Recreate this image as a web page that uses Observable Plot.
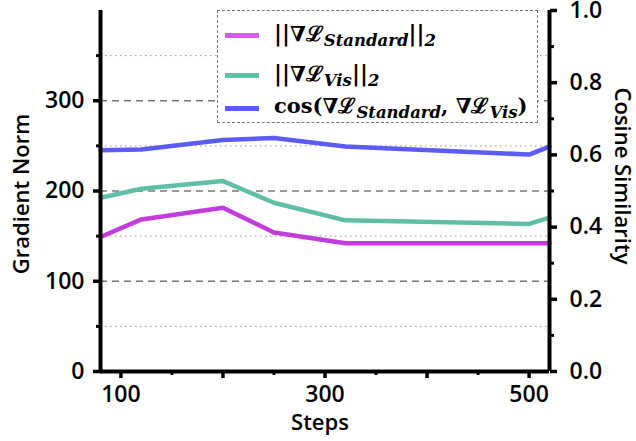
<!DOCTYPE html>
<html><head><meta charset="utf-8">
<script src="https://cdn.jsdelivr.net/npm/d3@7"></script>
<script src="https://cdn.jsdelivr.net/npm/@observablehq/plot@0.6"></script>
<style>
body{margin:0;background:#fff;}
#wrap{position:relative;width:636px;height:441px;overflow:hidden;}
#legend{position:absolute;left:217px;top:10px;width:321px;height:113px;box-sizing:border-box;border:1.3px dashed #777;background:#fff;font-family:"DejaVu Serif",serif;font-weight:bold;color:#000;}
.sw{position:absolute;left:7px;width:34px;height:5px;}
.lab{position:absolute;left:56px;white-space:nowrap;font-size:21px;line-height:26px;}
.lab sub{font-style:italic;font-size:16.5px;vertical-align:-5px;line-height:0;}
.lab .n{font-size:22px;}
svg text{font-weight:600;}
</style></head>
<body>
<div id="wrap">
<div id="chart"></div>
<div id="legend"></div>
</div>
<script>
const steps = [80, 120, 200, 250, 320, 500, 520];
const normStandard = [149, 168.5, 181.5, 154, 142, 142, 142];
const normVis = [192.5, 202.5, 211, 187, 167.5, 163.5, 170.5];
const cosSim = [0.613, 0.615, 0.641, 0.647, 0.623, 0.601, 0.623];
const leftTicks = [0, 100, 200, 300];
const leftMinor = [50, 150, 250, 350];
const rightTicks = [0, 0.2, 0.4, 0.6, 0.8, 1.0];
const rightMinor = [0.1, 0.3, 0.5, 0.7, 0.9];
const xTicks = [100, 200, 300, 400, 500];
const xLabeled = [100, 300, 500];
const xMinor = [150, 250, 350, 450];
const colors = {std: "#c23bdb", vis: "#5fbfa6", cos: "#5b5cf6"};
const legendColors = ["#d25fe8", "#5fc2a8", "#5b5cf6"];

const SCALE = 400; // right axis (0..1) mapped onto left axis (0..400)
const table = steps.map((s, i) => ({step: s, std: normStandard[i], vis: normVis[i], cos: cosSim[i] * SCALE}));

const plot = Plot.plot({
  width: 636, height: 441,
  marginLeft: 100, marginRight: 87, marginTop: 10, marginBottom: 70,
  x: {domain: [80, 520]},
  y: {domain: [0, 400]},
  style: {fontFamily: "'Open Sans', sans-serif", fontSize: "23px", color: "#000", background: "transparent", overflow: "visible"},
  marks: [
    Plot.gridY([100, 200, 300], {stroke: "#777", strokeOpacity: 1, strokeDasharray: "7,5", strokeWidth: 1.3}),
    Plot.gridY(leftMinor, {stroke: "#9a9a9a", strokeOpacity: 1, strokeDasharray: "1.5,3.5", strokeWidth: 1}),
    Plot.line(table, {x: "step", y: "std", stroke: colors.std, strokeWidth: 4.5}),
    Plot.line(table, {x: "step", y: "vis", stroke: colors.vis, strokeWidth: 4.5}),
    Plot.line(table, {x: "step", y: "cos", stroke: colors.cos, strokeWidth: 4.5}),
    Plot.ruleX([80], {stroke: "#000", strokeWidth: 4}),
    Plot.ruleX([520], {stroke: "#000", strokeWidth: 4}),
    Plot.ruleY([0], {stroke: "#000", strokeWidth: 4}),
    Plot.axisY(leftTicks, {tickSize: 7, strokeWidth: 3.5, tickPadding: 9, label: null, fontSize: 23}),
    Plot.axisY(leftMinor, {tickSize: 4, strokeWidth: 3, tickFormat: () => "", label: null}),
    Plot.axisY(rightTicks.map(d => d * SCALE), {anchor: "right", tickSize: 7, strokeWidth: 3.5, tickPadding: 13, tickFormat: d => (d / SCALE).toFixed(1), label: null, fontSize: 23}),
    Plot.axisY(rightMinor.map(d => d * SCALE), {anchor: "right", tickSize: 4, strokeWidth: 3, tickFormat: () => "", label: null}),
    Plot.axisX(xTicks, {tickSize: 7, strokeWidth: 3.5, tickPadding: 7, tickFormat: d => xLabeled.includes(d) ? String(d) : "", label: null, fontSize: 23}),
    Plot.axisX(xMinor, {tickSize: 4, strokeWidth: 3, tickFormat: () => "", label: null}),
    Plot.text(["Gradient Norm"], {frameAnchor: "left", textAnchor: "middle", rotate: -90, dx: -79, dy: 3, fontSize: 22}),
    Plot.text(["Cosine Similarity"], {frameAnchor: "right", textAnchor: "middle", rotate: 90, dx: 73, dy: -15, fontSize: 22}),
    Plot.text(["Steps"], {frameAnchor: "bottom", dx: -5, dy: 58, fontSize: 22})
  ]
});
document.getElementById("chart").appendChild(plot);

const legendItems = [
  '<span class="n">||</span>∇ℒ<sub>Standard</sub><span class="n">||</span><sub>2</sub>',
  '<span class="n">||</span>∇ℒ<sub>Vis</sub><span class="n">||</span><sub>2</sub>',
  'cos(∇ℒ<sub>Standard</sub>, ∇ℒ<sub>Vis</sub>)'
];
const rowY = [24, 64, 97];
const legend = document.getElementById("legend");
legendItems.forEach((html, i) => {
  const sw = document.createElement("div");
  sw.className = "sw";
  sw.style.top = (rowY[i] - 2.5) + "px";
  sw.style.background = legendColors[i];
  legend.appendChild(sw);
  const lab = document.createElement("div");
  lab.className = "lab";
  lab.style.top = (rowY[i] - 15) + "px";
  lab.innerHTML = html;
  legend.appendChild(lab);
});
</script>
</body></html>
